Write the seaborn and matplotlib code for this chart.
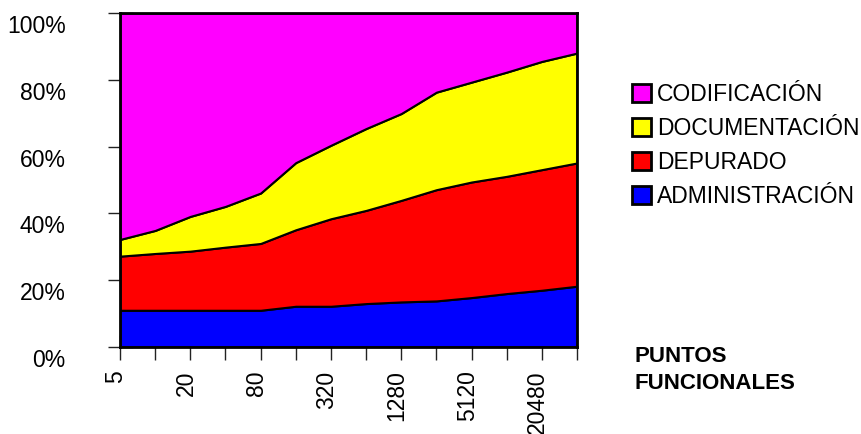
import numpy as np
import pandas as pd
import seaborn as sns
import matplotlib.pyplot as plt
import matplotlib.transforms as mtransforms
from matplotlib.patches import Patch

# data (percent of effort, stacked)
puntos = [5, 10, 20, 40, 80, 160, 320, 640, 1280, 2560, 5120, 10240, 20480, 40960]
administracion = [11.0, 11.0, 11.0, 11.0, 11.0, 12.2, 12.2, 13.0, 13.5, 13.8, 14.8, 16.0, 17.0, 18.2]
depurado = [16.2, 17.0, 17.7, 18.9, 20.0, 22.9, 26.2, 27.9, 30.4, 33.3, 34.6, 35.1, 36.1, 36.9]
documentacion = [5.0, 6.9, 10.4, 12.2, 15.1, 20.1, 22.0, 24.5, 26.0, 29.2, 29.9, 31.2, 32.4, 32.9]
codificacion = [67.8, 65.1, 60.9, 57.9, 53.9, 44.8, 39.6, 34.6, 30.1, 23.7, 20.7, 17.7, 14.5, 12.0]

series = ["ADMINISTRACIÓN", "DEPURADO", "DOCUMENTACIÓN", "CODIFICACIÓN"]
colors = ["#0000FF", "#FF0000", "#FFFF00", "#FF00FF"]

df = pd.DataFrame({
    "ADMINISTRACIÓN": administracion,
    "DEPURADO": depurado,
    "DOCUMENTACIÓN": documentacion,
    "CODIFICACIÓN": codificacion,
}, index=puntos)

sns.set_theme(style="white")
plt.rcParams["font.family"] = ["Liberation Sans", "DejaVu Sans"]
plt.rcParams["text.color"] = "black"
plt.rcParams["xtick.color"] = "black"
plt.rcParams["ytick.color"] = "black"
plt.rcParams["xtick.labelcolor"] = "black"
plt.rcParams["ytick.labelcolor"] = "black"
FS = 16.5

fig = plt.figure(figsize=(8.61, 4.34), dpi=100)
ax = fig.add_axes([120 / 861, 1 - 347 / 434, 457 / 861, 334 / 434])

pos = np.arange(len(puntos))
ax.stackplot(pos, *[df[s].values for s in series], colors=colors,
             edgecolor="black", linewidth=1.5)

ax.set_xlim(0, len(puntos) - 1)
ax.set_ylim(0, 100)

ax.set_xticks(pos)
ax.set_xticklabels([str(p) if i % 2 == 0 else "" for i, p in enumerate(puntos)],
                   rotation=90, fontsize=FS)
ax.set_yticks(range(0, 101, 20))
ax.set_yticklabels([f"{v}%" for v in range(0, 101, 20)], fontsize=FS)
ax.tick_params(axis="x", direction="inout", length=18, width=1, color="#222222",
               labelcolor="black", pad=8, bottom=True)
ax.tick_params(axis="y", direction="inout", length=18, width=1, color="#222222",
               labelcolor="black", pad=30, left=True)
for sp in ax.spines.values():
    sp.set_color("black")
    sp.set_linewidth(2)
ax.set_xlabel("")
ax.set_ylabel("")

# labels in the original sit a little below / left of their ticks
shift_y = mtransforms.ScaledTranslation(0, -2 / 100, fig.dpi_scale_trans)
for lab in ax.get_yticklabels():
    lab.set_va("top")
    lab.set_transform(lab.get_transform() + shift_y)
shift_x = mtransforms.ScaledTranslation(-4 / 100, 0, fig.dpi_scale_trans)
for lab in ax.get_xticklabels():
    lab.set_transform(lab.get_transform() + shift_x)

handles = [Patch(facecolor=c, edgecolor="black", linewidth=2, label=s)
           for s, c in zip(series, colors)][::-1]
fig.legend(handles=handles, loc="upper left",
           bbox_to_anchor=(632 / 861, 1 - 83 / 434), frameon=False,
           fontsize=FS, handlelength=0.83, handleheight=0.83, labelcolor="black",
           handletextpad=0.26, labelspacing=0.48, borderpad=0, borderaxespad=0)

fig.text(635 / 861, 1 - 346 / 434, "PUNTOS\nFUNCIONALES", fontsize=16,
         fontweight="bold", va="top", ha="left", linespacing=1.35, color="black")

fig.savefig("out.png", dpi=100)
